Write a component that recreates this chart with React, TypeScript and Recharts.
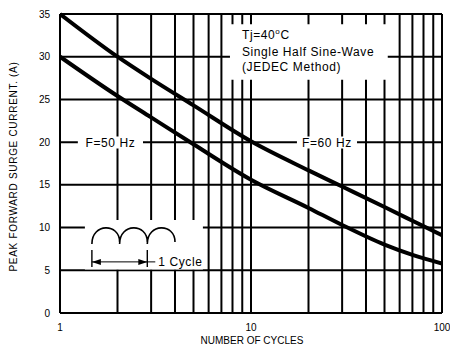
import React from 'react';
import { LineChart, Line, XAxis, YAxis, ReferenceLine, ReferenceArea } from 'recharts';

const cycles = [1, 2, 3, 5, 10, 20, 30, 50, 70, 100];
const surge60Hz = [35, 30, 27.4, 24.3, 20.1, 16.7, 14.8, 12.4, 10.8, 9.1];
const surge50Hz = [30, 25.4, 22.9, 19.75, 15.6, 12.3, 10.3, 8.0, 6.8, 5.8];
const xTicks = [1, 10, 100];
const yTicks = [0, 5, 10, 15, 20, 25, 30, 35];
const xGrid = [1, 2, 3, 4, 5, 6, 7, 8, 9, 10, 20, 30, 40, 50, 60, 70, 80, 90, 100];
const yGrid = [0, 5, 10, 15, 20, 25, 30, 35];

const data = cycles.map((c, i) => ({ cycles: c, f60: surge60Hz[i], f50: surge50Hz[i] }));

const FONT = 'Liberation Sans, Arial, Helvetica, sans-serif';

const NoteText = (props: any) => {
  const vb = props.viewBox || {};
  const x = vb.x + 12;
  const y = vb.y;
  return (
    <g fontFamily={FONT} fontSize={12} letterSpacing={0.6} fill="#000">
      <text x={x} y={y + 11} dominantBaseline="central">
        Tj=40<tspan fontSize={8} dy={-4}>o</tspan><tspan dy={4}>C</tspan>
      </text>
      <text x={x} y={y + 27.5} dominantBaseline="central">Single Half Sine-Wave</text>
      <text x={x} y={y + 43} dominantBaseline="central">(JEDEC Method)</text>
    </g>
  );
};

const CenterText = (props: any) => {
  const vb = props.viewBox || {};
  return (
    <text
      x={vb.x + vb.width / 2}
      y={vb.y + vb.height / 2}
      textAnchor="middle"
      dominantBaseline="central"
      fontFamily={FONT}
      fontSize={12}
      letterSpacing={0.6}
      fill="#000"
    >
      {props.text}
    </text>
  );
};

const CycleSymbol = (props: any) => {
  const vb = props.viewBox || {};
  const x0 = vb.x + 7;
  const top = vb.y + 8;
  const base = vb.y + 24;
  const w = 27.7;
  let d = '';
  for (let i = 0; i < 3; i++) {
    const a = x0 + i * w;
    const b = a + w;
    d += `M${a},${base} C${a},${top - 5} ${b},${top - 5} ${b},${base - 2} `;
  }
  const tickX1 = x0;
  const tickX2 = x0 + 2 * w;
  const arrowY = vb.y + 42;
  return (
    <g>
      <path d={d} fill="none" stroke="#000" strokeWidth={1.6} />
      <line x1={tickX1} x2={tickX1} y1={vb.y + 30} y2={vb.y + 47} stroke="#000" strokeWidth={1.4} />
      <line x1={tickX2} x2={tickX2} y1={vb.y + 30} y2={vb.y + 47} stroke="#000" strokeWidth={1.4} />
      <line x1={tickX1} x2={tickX2 + 8} y1={arrowY} y2={arrowY} stroke="#000" strokeWidth={1} />
      <polygon points={`${tickX1},${arrowY} ${tickX1 + 9},${arrowY - 3} ${tickX1 + 9},${arrowY + 3}`} fill="#000" />
      <polygon points={`${tickX2},${arrowY} ${tickX2 - 9},${arrowY - 3} ${tickX2 - 9},${arrowY + 3}`} fill="#000" />
      <text
        x={tickX2 + 11}
        y={arrowY}
        dominantBaseline="central"
        fontFamily={FONT}
        fontSize={12}
        letterSpacing={0.6}
        fill="#000"
      >
        1 Cycle
      </text>
    </g>
  );
};

const YLabel = (props: any) => {
  const vb = props.viewBox || {};
  const cx = vb.x + 13;
  const cy = vb.y + vb.height / 2 + 3;
  return (
    <text
      x={cx}
      y={cy}
      transform={`rotate(-90, ${cx}, ${cy})`}
      textAnchor="middle"
      dominantBaseline="central"
      fontFamily={FONT}
      fontSize={10}
      letterSpacing={0.7}
      fill="#000"
    >
      PEAK FORWARD SURGE CURRENT. (A)
    </text>
  );
};

const XLabel = (props: any) => {
  const vb = props.viewBox || {};
  return (
    <text
      x={vb.x + vb.width / 2 + 1}
      y={vb.y + 27}
      textAnchor="middle"
      dominantBaseline="central"
      fontFamily={FONT}
      fontSize={10}
      fill="#000"
    >
      NUMBER OF CYCLES
    </text>
  );
};

export default function App() {
  return (
    <div style={{ position: 'absolute', left: 0, top: 0, background: '#fff' }}>
      <LineChart width={450} height={349} data={data} margin={{ top: 14, right: 8, bottom: 0, left: 0 }}>
        <XAxis
          dataKey="cycles"
          type="number"
          scale="log"
          domain={[1, 100]}
          ticks={xTicks}
          allowDataOverflow
          axisLine={false}
          tickLine={false}
          tickMargin={5}
          tick={{ fill: '#000', fontSize: 10, fontFamily: FONT }}
          height={36}
          label={<XLabel />}
        />
        <YAxis
          type="number"
          domain={[0, 35]}
          ticks={yTicks}
          axisLine={false}
          tickLine={false}
          tickMargin={4}
          width={60}
          tick={{ fill: '#000', fontSize: 10, fontFamily: FONT }}
          label={<YLabel />}
        />
        {xGrid.map((v) => (
          <ReferenceLine key={'x' + v} x={v} stroke="#000" strokeWidth={2} zIndex={-50} />
        ))}
        {yGrid.map((v) => (
          <ReferenceLine key={'y' + v} y={v} stroke="#000" strokeWidth={2} zIndex={-50} />
        ))}
        <ReferenceArea x1={7.76} x2={52} y1={27.3} y2={33.8} fill="#fff" fillOpacity={1} stroke="none" zIndex={-40} label={<NoteText />} />
        <ReferenceArea x1={1.24} x2={2.72} y1={19.25} y2={20.65} fill="#fff" fillOpacity={1} stroke="none" zIndex={-40} label={<CenterText text="F=50 Hz" />} />
        <ReferenceArea x1={17.4} x2={35.9} y1={19.25} y2={20.65} fill="#fff" fillOpacity={1} stroke="none" zIndex={-40} label={<CenterText text="F=60 Hz" />} />
        <ReferenceArea x1={1.35} x2={5.6} y1={5.1} y2={10.9} fill="#fff" fillOpacity={1} stroke="none" zIndex={-40} label={<CycleSymbol />} />
        <Line type="monotone" dataKey="f60" stroke="#000" strokeWidth={4} dot={false} isAnimationActive={false} />
        <Line type="monotone" dataKey="f50" stroke="#000" strokeWidth={4} dot={false} isAnimationActive={false} />
      </LineChart>
    </div>
  );
}
